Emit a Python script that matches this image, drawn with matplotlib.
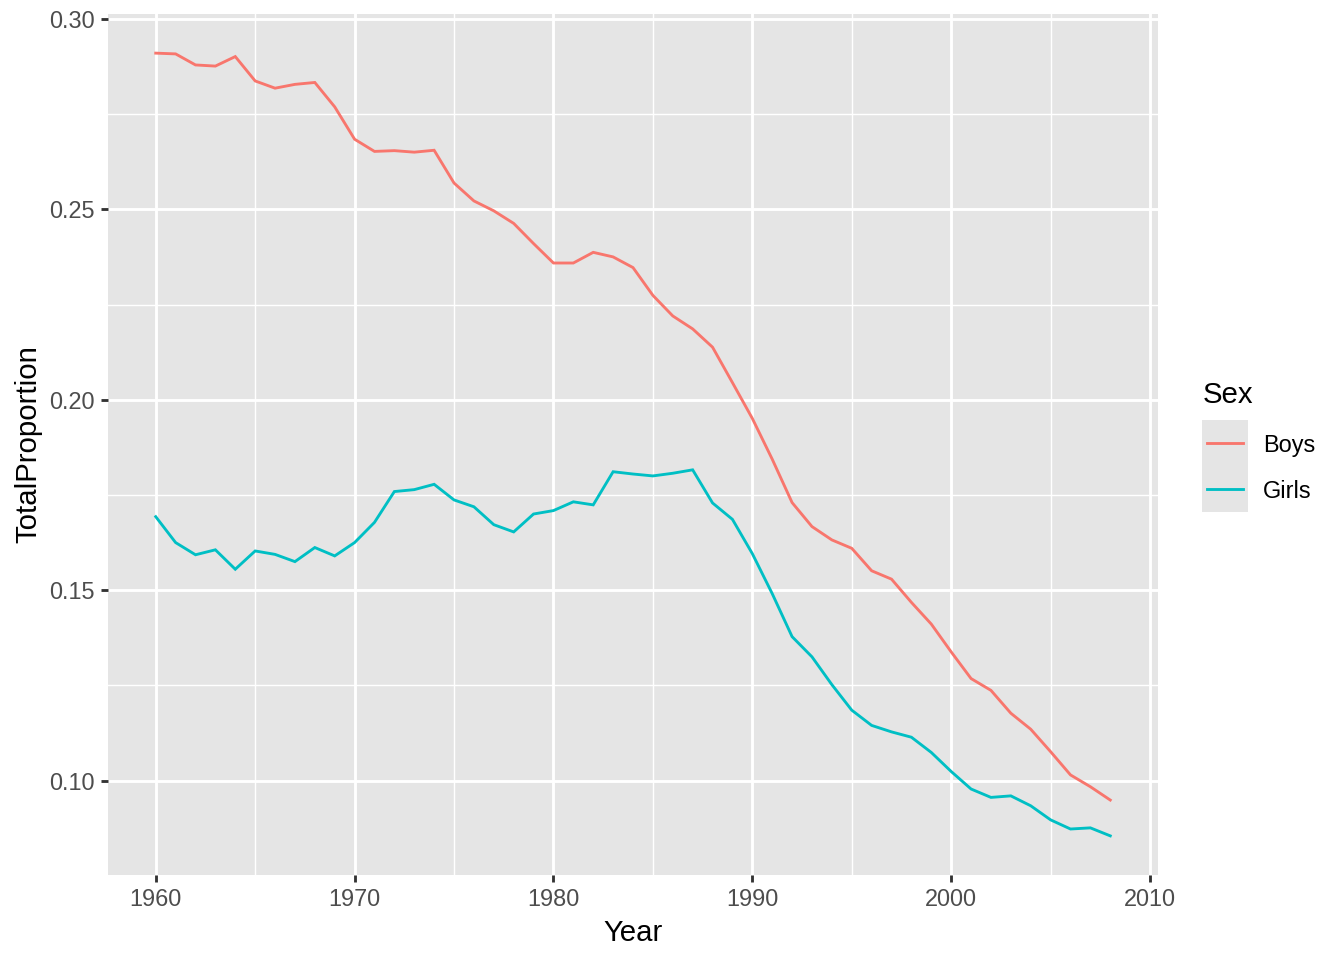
import matplotlib
matplotlib.use("Agg")
import matplotlib.pyplot as plt
import numpy as np

plt.rcParams['font.family'] = ['Liberation Sans', 'DejaVu Sans']

# data
years = np.arange(1960, 2009)
boys = [0.2910, 0.2908, 0.2879, 0.2876, 0.2901, 0.2837, 0.2818, 0.2828, 0.2833, 0.2769,
        0.2684, 0.2652, 0.2654, 0.2650, 0.2655, 0.2569, 0.2522, 0.2496, 0.2463, 0.2410,
        0.2359, 0.2359, 0.2387, 0.2375, 0.2347, 0.2274, 0.2220, 0.2186, 0.2138, 0.2045,
        0.1951, 0.1844, 0.1730, 0.1667, 0.1632, 0.1610, 0.1551, 0.1529, 0.1468, 0.1411,
        0.1338, 0.1268, 0.1237, 0.1177, 0.1135, 0.1076, 0.1015, 0.0984, 0.0949]
girls = [0.1693, 0.1625, 0.1593, 0.1606, 0.1555, 0.1603, 0.1594, 0.1575, 0.1612, 0.1590,
         0.1625, 0.1678, 0.1759, 0.1764, 0.1778, 0.1737, 0.1719, 0.1672, 0.1653, 0.1700,
         0.1709, 0.1732, 0.1724, 0.1811, 0.1805, 0.1800, 0.1807, 0.1816, 0.1729, 0.1686,
         0.1596, 0.1491, 0.1378, 0.1325, 0.1252, 0.1185, 0.1145, 0.1128, 0.1114, 0.1074,
         0.1024, 0.0978, 0.0956, 0.0960, 0.0934, 0.0897, 0.0873, 0.0876, 0.0855]
sexes = ['Boys', 'Girls']
colors = ['#F8766D', '#00BFC4']

W, H = 1344, 960
fig = plt.figure(figsize=(7, 5), dpi=192)
ax = fig.add_axes([108 / W, 1 - 875 / H, (1158 - 108) / W, (875 - 14) / H])
ax.set_facecolor('#E5E5E5')

for s, vals, c in zip(sexes, [boys, girls], colors):
    ax.plot(years, vals, color=c, lw=1.07, solid_joinstyle='miter')

xlo, xhi = years.min(), years.max()
allv = boys + girls
ylo, yhi = min(allv), max(allv)
ax.set_xlim(xlo - 0.05 * (xhi - xlo), xhi + 0.05 * (xhi - xlo))
ax.set_ylim(ylo - 0.05 * (yhi - ylo), yhi + 0.05 * (yhi - ylo))

ax.set_xticks([1960, 1970, 1980, 1990, 2000, 2010])
ax.set_xticks([1965, 1975, 1985, 1995, 2005], minor=True)
ax.set_yticks([0.10, 0.15, 0.20, 0.25, 0.30])
ax.set_yticks([0.125, 0.175, 0.225, 0.275], minor=True)
ax.set_yticklabels(['0.10', '0.15', '0.20', '0.25', '0.30'])
ax.grid(which='major', color='white', lw=1.07)
ax.grid(which='minor', color='white', lw=0.53)
ax.set_axisbelow(True)
for sp in ax.spines.values():
    sp.set_visible(False)
ax.tick_params(which='major', length=2.75, width=1.07, color='#333333',
               labelsize=8.8, labelcolor='#4D4D4D', pad=2.2)
ax.tick_params(which='minor', length=0)

ax.set_xlabel('Year', fontsize=11, color='black', labelpad=3)
ax.set_ylabel('TotalProportion', fontsize=11, color='black', labelpad=2.5)

# legend
fig.text(1203 / W, 1 - 395 / H, 'Sex', fontsize=11, va='center', ha='left')
lax = fig.add_axes([1202 / W, 1 - 512 / H, 46 / W, 92 / H])
lax.set_facecolor('#E5E5E5')
lax.set_xlim(0, 1)
lax.set_ylim(0, 2)
for i, (s, c) in enumerate(zip(sexes, colors)):
    lax.plot([0.1, 0.9], [1.5 - i, 1.5 - i], color=c, lw=1.07)
    fig.text(1263 / W, 1 - (445 + 46 * i) / H, s, fontsize=8.8, va='center', ha='left')
lax.set_xticks([])
lax.set_yticks([])
for sp in lax.spines.values():
    sp.set_visible(False)

fig.savefig('out.png', dpi=192)
